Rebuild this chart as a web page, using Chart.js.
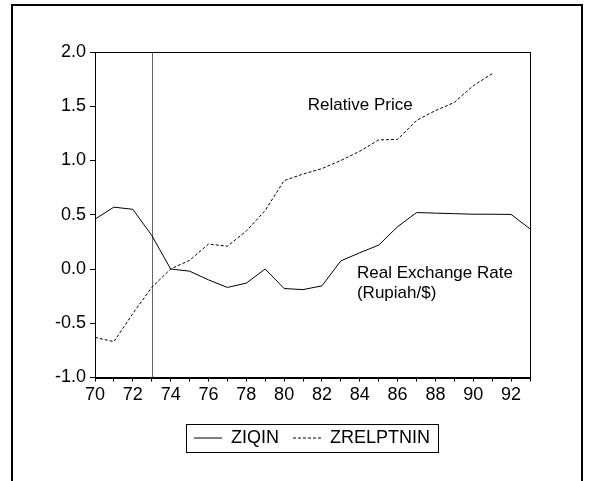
<!DOCTYPE html>
<html>
<head>
<meta charset="utf-8">
<script src="https://cdn.jsdelivr.net/npm/chart.js@4/dist/chart.umd.min.js"></script>
<style>
  html, body { margin: 0; padding: 0; background: #fff; overflow: hidden; }
  #frame { position: absolute; left: 11px; top: 4px; width: 568px; height: 500px; border: 2px solid #000; }
  #wrap { position: absolute; left: 0; top: 0; width: 589px; height: 481px; }
</style>
</head>
<body>
<div id="frame"></div>
<div id="wrap"><canvas id="myChart" width="589" height="481"></canvas></div>
<script>
// Años (70 = 1970)
var years = [70, 71, 72, 73, 74, 75, 76, 77, 78, 79, 80, 81, 82, 83, 84, 85, 86, 87, 88, 89, 90, 91, 92, 93];

// Tipo de cambio real (Rupiah/$)
var ziqin = [0.46, 0.57, 0.55, 0.31, 0.00, -0.02, -0.10, -0.17, -0.13, 0.00, -0.18, -0.19, -0.155, 0.075,
             0.15, 0.22, 0.39, 0.52, 0.515, 0.51, 0.505, 0.505, 0.503, 0.37];

// Precio relativo
var zrelptnin = [-0.63, -0.67, -0.41, -0.17, 0.00, 0.08, 0.23, 0.21, 0.35, 0.54, 0.815, 0.875, 0.925, 1.00,
                 1.085, 1.19, 1.195, 1.37, 1.46, 1.535, 1.69, 1.80, null, null];

var seriesNames = ['ZIQIN', 'ZRELPTNIN'];
var yTicks = [-1.0, -0.5, 0.0, 0.5, 1.0, 1.5, 2.0];
var breakYear = 73;

var fuente = '"Liberation Sans", Arial, sans-serif';

// Textos dentro del gráfico (posición en unidades de datos)
var notas = [
    { lines: ['Relative Price'], x: 81.25, y: 1.51 },
    { lines: ['Real Exchange Rate', '(Rupiah/$)'], x: 83.85, y: -0.04 }
];

var marco = {
    id: 'marco',
    beforeDatasetsDraw: function(chart) {
        var c = chart.ctx, a = chart.chartArea;
        var px = Math.round(chart.scales.x.getPixelForValue(breakYear)) + 0.5;
        c.save();
        c.strokeStyle = '#666';
        c.lineWidth = 1;
        c.beginPath();
        c.moveTo(px, a.top);
        c.lineTo(px, a.bottom);
        c.stroke();
        c.restore();
    },
    afterDraw: function(chart) {
        var c = chart.ctx, a = chart.chartArea;
        c.save();
        c.strokeStyle = '#000';
        c.lineWidth = 1;
        c.strokeRect(Math.round(a.left) + 0.5, Math.round(a.top) + 0.5,
                     Math.round(a.right - a.left), Math.round(a.bottom - a.top));

        // textos
        c.fillStyle = '#000';
        c.font = '17px ' + fuente;
        c.textBaseline = 'middle';
        c.textAlign = 'left';
        notas.forEach(function(n) {
            var x = chart.scales.x.getPixelForValue(n.x);
            var y = chart.scales.y.getPixelForValue(n.y);
            n.lines.forEach(function(t, i) { c.fillText(t, x, y + i * 20); });
        });

        // caja de la leyenda
        var boxes = chart.legend.legendHitBoxes;
        if (boxes && boxes.length) {
            var l = boxes[0].left, r = boxes[boxes.length - 1].left + boxes[boxes.length - 1].width;
            var t = boxes[0].top;
            c.strokeRect(Math.round(l - 8) + 0.5, Math.round(t - 5) + 0.5, Math.round(r - l + 16), 28);
        }
        c.restore();
    }
};

var ctx = document.getElementById('myChart').getContext('2d');

var config = {
    type: 'line',
    data: {
        labels: years,
        datasets: [{
            label: seriesNames[0],
            data: ziqin,
            borderColor: '#000',
            borderWidth: 1,
            pointRadius: 0,
            tension: 0
        }, {
            label: seriesNames[1],
            data: zrelptnin,
            borderColor: '#000',
            borderWidth: 1,
            borderDash: [3, 2],
            pointRadius: 0,
            tension: 0
        }]
    },
    options: {
        responsive: false,
        animation: false,
        layout: { padding: { left: 35, top: 52, right: 0, bottom: 24 } },
        plugins: {
            tooltip: { enabled: false },
            legend: {
                position: 'bottom',
                labels: {
                    color: '#000',
                    font: { size: 18, family: fuente },
                    usePointStyle: true,
                    pointStyle: 'line',
                    pointStyleWidth: 28,
                    padding: 14,
                    generateLabels: function(chart) {
                        var items = Chart.defaults.plugins.legend.labels.generateLabels(chart);
                        items.forEach(function(it) {
                            var ds = chart.data.datasets[it.datasetIndex];
                            it.lineDash = ds.borderDash || [];
                            it.strokeStyle = '#000';
                            it.lineWidth = 1;
                        });
                        return items;
                    }
                }
            }
        },
        scales: {
            x: {
                type: 'linear',
                min: 70,
                max: 93,
                afterFit: function(s) { s.height = 37.5; },
                grid: { drawOnChartArea: false, drawTicks: true, tickLength: 4, color: '#000' },
                border: { display: true, color: '#000' },
                ticks: {
                    stepSize: 1,
                    autoSkip: false,
                    maxRotation: 0,
                    padding: 3,
                    color: '#000',
                    font: { size: 18, family: fuente },
                    callback: function(v) { return v % 2 === 0 ? String(v) : ''; }
                }
            },
            y: {
                min: -1,
                max: 2,
                afterFit: function(s) { s.width = 60; },
                afterBuildTicks: function(s) { s.ticks = yTicks.map(function(v) { return { value: v }; }); },
                grid: { drawOnChartArea: false, drawTicks: true, tickLength: 5, color: '#000' },
                border: { display: true, color: '#000' },
                ticks: {
                    padding: 4,
                    color: '#000',
                    font: { size: 18, family: fuente },
                    callback: function(v) { return Number(v).toFixed(1); }
                }
            },
            yR: {
                position: 'right',
                display: true,
                afterFit: function(s) { s.width = 59; },
                grid: { display: false },
                border: { display: false },
                ticks: { display: false }
            }
        }
    },
    plugins: [marco]
};

var myChart = new Chart(ctx, config);
</script>
</body>
</html>
